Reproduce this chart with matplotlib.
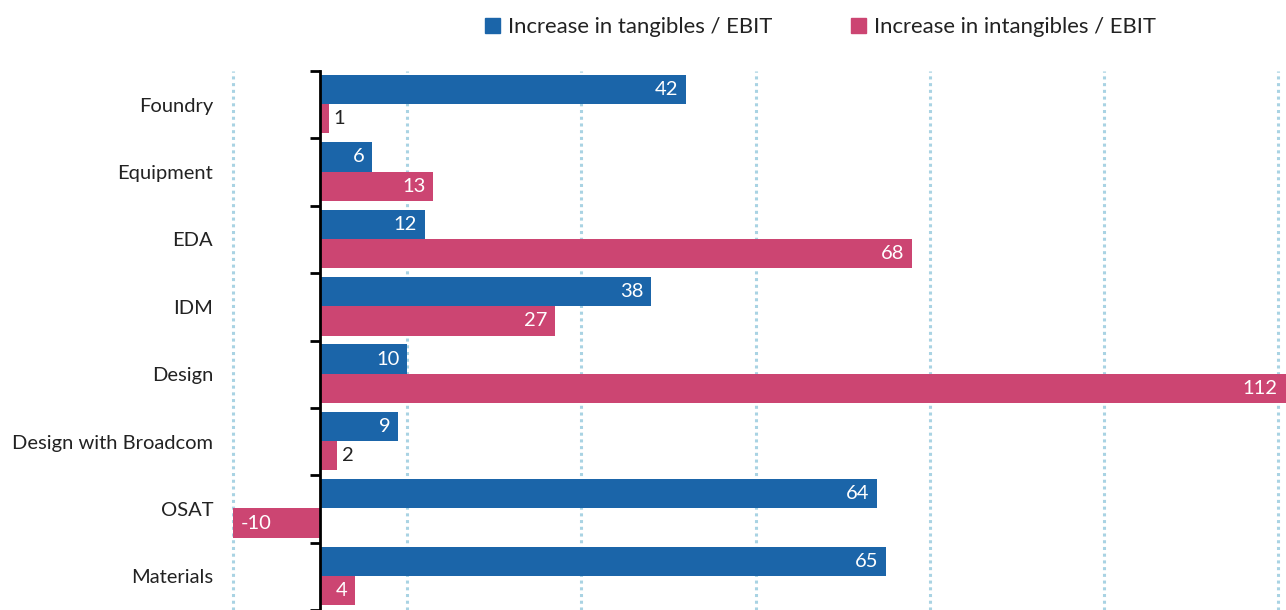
import matplotlib.pyplot as plt
from matplotlib.patches import Patch
import numpy as np

plt.rcParams['font.family'] = ['Lato', 'DejaVu Sans']

categories = ['Foundry', 'Equipment', 'EDA', 'IDM', 'Design',
              'Design with Broadcom', 'OSAT', 'Materials']
tangibles = [42, 6, 12, 38, 10, 9, 64, 65]
intangibles = [1, 13, 68, 27, 112, 2, -10, 4]

blue = '#1b65a9'
pink = '#cc4572'
xmin, xmax = -36.74, 110.9

fig = plt.figure(figsize=(12.86, 6.10), dpi=100)
top_px = 71
ax = fig.add_axes([0, 0, 1, 1 - top_px / 610])

y = np.arange(len(categories))
h = 0.434
off = 0.007
ax.barh(y - h / 2 - off, tangibles, height=h, color=blue, zorder=3)
ax.barh(y + h / 2 - off, intangibles, height=h, color=pink, zorder=3)

ax.set_xlim(xmin, xmax)
ax.set_ylim((610 - top_px) / 68 - 0.5, -0.5)

# gridlines
for g in range(-10, 111, 20):
    ax.axvline(g, color='#a9d3e3', lw=2.2, ls=(0, (1, 1.2)), zorder=1)

# value labels
fs = 14.5
pad = 0.9
for yy, vals in [(y - h / 2 - off, tangibles), (y + h / 2 - off, intangibles)]:
    for yi, v in zip(yy, vals):
        if 0 <= v < 3:
            ax.text(v + pad * 0.6, yi, str(v), ha='left', va='center',
                    color='#222222', fontsize=fs, zorder=4)
        elif v < 0:
            ax.text(v + pad, yi, str(v), ha='left', va='center',
                    color='white', fontsize=fs, zorder=4)
        else:
            ax.text(min(v, xmax - 0.1) - pad, yi, str(v), ha='right', va='center',
                    color='white', fontsize=fs, zorder=4)

# axes styling
for s in ['top', 'right', 'bottom']:
    ax.spines[s].set_visible(False)
ax.spines['left'].set_position(('data', 0))
ax.spines['left'].set_linewidth(2)
ax.spines['left'].set_zorder(5)
ax.set_xticks([])
ax.set_yticks(np.arange(-0.5, len(categories), 1))
ax.set_yticklabels([])
ax.tick_params(axis='y', which='major', length=7, width=2, direction='out')
ax.set_yticks(y, minor=True)
ax.set_yticklabels(categories, minor=True, fontsize=fs, color='#222222')
ax.tick_params(axis='y', which='minor', length=0, pad=77)

handles = [Patch(color=blue), Patch(color=pink)]
fig.legend(handles, ['Increase in tangibles / EBIT', 'Increase in intangibles / EBIT'],
           loc='center', bbox_to_anchor=(0.638, 0.956), ncol=2, frameon=False,
           fontsize=15.9, handlelength=0.68, handleheight=0.68,
           handletextpad=0.35, columnspacing=3.6, labelcolor='#222222')

fig.savefig('out.png', dpi=100)
